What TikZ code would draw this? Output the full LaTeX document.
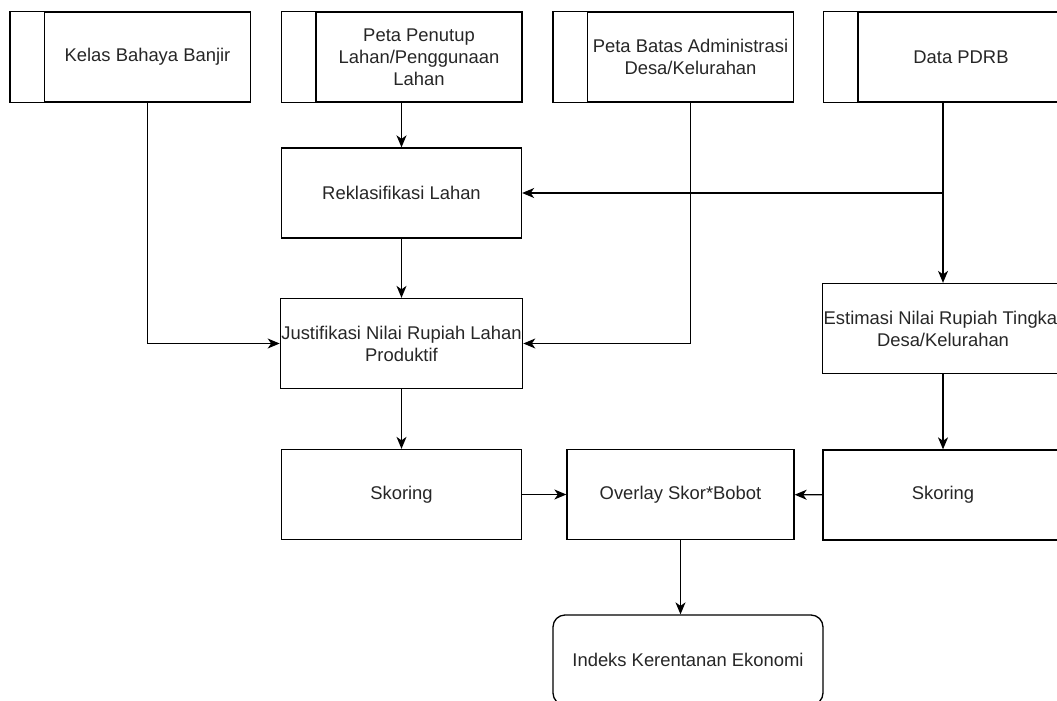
\documentclass[tikz,border=0pt]{standalone}
\usepackage{fontspec}
\setmainfont{Liberation Sans}
\usetikzlibrary{positioning,calc,arrows.meta}

\tikzset{
    box/.style={draw, line width=1.3pt, minimum width=240pt, minimum height=90pt, align=center, inner sep=1pt, text=black!85},
    tabbox/.style={box, minimum width=206pt},
    endbox/.style={box, minimum width=270pt, rounded corners=12pt},
    arr/.style={line width=1.3pt, -{Stealth[length=12pt,width=10pt,inset=3.5pt]}}
}

\begin{document}
\begin{tikzpicture}[x=1pt, y=-1pt, font=\fontsize{18.4}{22}\selectfont]
    \useasboundingbox (0,0) rectangle (1057,701);
    \clip (0,0) rectangle (1057,701);

    % input data
    \node[tabbox] (kelas) at (147.5,57) {Kelas Bahaya Banjir};
    \node[tabbox] (tutup) at (419,57) {Peta Penutup\\Lahan/Penggunaan\\Lahan};
    \node[tabbox] (batas) at (690.5,57) {Peta Batas Administrasi\\Desa/Kelurahan};
    \node[tabbox] (pdrb) at (961,57) {Data PDRB};
    \foreach \n in {kelas,tutup,batas,pdrb}
        \draw[line width=1.3pt] (\n.north west) -- ++(-34,0) |- (\n.south west);

    % processing
    \node[box] (rek) at (401.5,193) {Reklasifikasi Lahan};
    \node[box] (just) at (401.5,343.5) {Justifikasi Nilai Rupiah Lahan\\Produktif};
    \node[box] (est) at (943,328.5) {Estimasi Nilai Rupiah Tingkat\\Desa/Kelurahan};
    \node[box] (skorL) at (401.5,494.5) {Skoring};
    \node[box] (skorR) at (943,495) {Skoring};
    \node[box, minimum width=227pt] (overlay) at (680.5,494.5) {Overlay Skor*Bobot};
    \node[endbox] (indeks) at (688,660) {Indeks Kerentanan Ekonomi};

    % connectors
    \coordinate (split) at (est.north |- rek.east);
    \draw[arr] (kelas.south) |- (just.west);
    \draw[arr] (rek.north |- tutup.south) -- (rek.north);
    \draw[arr] (batas.south) |- (just.east);
    \draw[arr] (est.north |- pdrb.south) -- (est.north);
    \draw[arr] (split) -- (rek.east);
    \draw[arr] (rek) -- (just);
    \draw[arr] (just) -- (skorL);
    \draw[arr] (est) -- (skorR);
    \draw[arr] (skorL) -- (overlay);
    \draw[arr] (skorR) -- (overlay);
    \draw[arr] (overlay.south) -- (overlay.south |- indeks.north);
\end{tikzpicture}
\end{document}
